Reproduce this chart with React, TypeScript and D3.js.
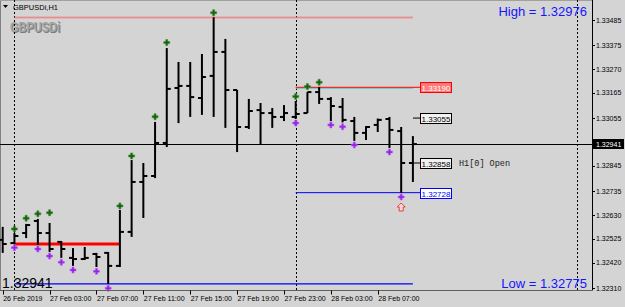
import React from 'react';
import * as d3 from 'd3';

const W = 625;
const H = 307;

// OHLC per H1 bar (26 Feb 23:00 .. 28 Feb 10:00)
const opens = [1.32521, 1.32507, 1.32551, 1.32604, 1.32551, 1.32512, 1.32442, 1.32437, 1.32459, 1.32464, 1.32407, 1.32556, 1.32775, 1.32801, 1.32946, 1.33187, 1.33196, 1.33143, 1.3324, 1.33345, 1.33178, 1.33016, 1.3309, 1.33077, 1.3306, 1.3306, 1.33077, 1.33169, 1.33139, 1.33104, 1.33042, 1.3299, 1.33025, 1.33051, 1.32998, 1.32858];
const highs = [1.32578, 1.32551, 1.32591, 1.32613, 1.32595, 1.32516, 1.32485, 1.3249, 1.32464, 1.32468, 1.32652, 1.32871, 1.32858, 1.33038, 1.33362, 1.33301, 1.33301, 1.33336, 1.33497, 1.33402, 1.33178, 1.33139, 1.33121, 1.33099, 1.33112, 1.3313, 1.33169, 1.33191, 1.33147, 1.33143, 1.3306, 1.3302, 1.33053, 1.3306, 1.33016, 1.32976];
const lows = [1.32464, 1.32503, 1.32529, 1.32499, 1.32468, 1.32442, 1.32407, 1.32433, 1.32402, 1.32328, 1.32402, 1.32534, 1.32617, 1.32792, 1.32928, 1.33033, 1.3306, 1.33069, 1.3306, 1.33012, 1.32906, 1.33007, 1.32941, 1.33012, 1.33042, 1.33051, 1.33077, 1.33117, 1.33042, 1.33036, 1.32955, 1.32959, 1.32994, 1.32924, 1.32727, 1.32775];
const closes = [1.32503, 1.32538, 1.32586, 1.32551, 1.32481, 1.32481, 1.32437, 1.32442, 1.32446, 1.32407, 1.32556, 1.32775, 1.32801, 1.32946, 1.33183, 1.33196, 1.33147, 1.33235, 1.33345, 1.33178, 1.33016, 1.33086, 1.33077, 1.3306, 1.33077, 1.33073, 1.33169, 1.33139, 1.33108, 1.33047, 1.3299, 1.33016, 1.33047, 1.33003, 1.32858, 1.32941];

const timeTickIdx = [0, 4, 8, 12, 16, 20, 24, 28, 32];
const timeLabels = ['26 Feb 2019', '27 Feb 03:00', '27 Feb 07:00', '27 Feb 11:00', '27 Feb 15:00', '27 Feb 19:00', '27 Feb 23:00', '28 Feb 03:00', '28 Feb 07:00'];
const priceTicks = [1.33485, 1.33375, 1.3327, 1.33165, 1.33055, 1.32845, 1.32735, 1.3263, 1.32525, 1.3242, 1.3231];

const upIdx = [1, 2, 3, 4, 10, 11, 13, 14, 18, 25, 26, 27];
const upVals = [1.32569, 1.32616, 1.32635, 1.3264, 1.3267, 1.32889, 1.33061, 1.33386, 1.33517, 1.3315, 1.33193, 1.33212];
const dnIdx = [1, 3, 4, 5, 6, 8, 9, 25, 28, 29, 30, 33, 34];
const dnVals = [1.32487, 1.32481, 1.3245, 1.32423, 1.32389, 1.32383, 1.32309, 1.33033, 1.33025, 1.33017, 1.32937, 1.32906, 1.32709];

const separators = [1, 25, 49];
const currentPrice = 1.32941;
const periodHigh = 1.33497;
const periodLow = 1.32328;
const rangeLevel = 1.32503;
const arrowIdx = 34;
const arrowVal = 1.32665;

const levelLabels = ['1.33190', '1.33055', '1.32858', '1.32728'];
const levelValues = [1.3319, 1.33055, 1.32858, 1.32728];

const BG = '#d4d4d4';

export default function App() {
  const x = d3.scaleLinear().domain([0, 35]).range([2.7, 412.9]);
  const y = d3.scaleLinear().domain([1.3231, 1.33485]).range([288, 20]);
  const plotRight = 592;
  const plotBottom = 290.5;
  const fmt = d3.format('.5f');
  const cross = d3.symbol().type(d3.symbolCross).size(20)() as string;

  const labelStyles = [
    { stroke: '#ff0000', fill: '#ff7a7a', text: '#ffffff' },
    { stroke: '#000000', fill: '#f2f2f2', text: '#000000' },
    { stroke: '#000000', fill: '#f2f2f2', text: '#000000' },
    { stroke: '#0000ff', fill: '#ffffff', text: '#0000ff' },
  ];

  return (
    <svg width={W} height={H} style={{ position: 'fixed', left: 0, top: 0, background: BG }} fontFamily="'Liberation Sans', Arial, sans-serif">
      <rect x={0} y={0} width={W} height={H} fill={BG} />
      {/* frame */}
      <line x1={0.5} y1={0} x2={0.5} y2={plotBottom} stroke="#808080" />
      <line x1={0} y1={0.5} x2={plotRight} y2={0.5} stroke="#a0a0a0" />

      {/* watermark */}
      <text x={11} y={33} fontSize={14} fontWeight="bold" fill="#7a7a7a" textLength={50} lengthAdjust="spacingAndGlyphs">GBPUSDi</text>
      <text x={10} y={32} fontSize={14} fontWeight="bold" fill="#a4a4a4" textLength={50} lengthAdjust="spacingAndGlyphs">GBPUSDi</text>

      {/* period separators */}
      {separators.map((s) => (
        <line key={s} x1={Math.round(x(s)) + 0.5} y1={0} x2={Math.round(x(s)) + 0.5} y2={plotBottom} stroke="#000" strokeDasharray="2,2" />
      ))}

      {/* levels */}
      <line x1={x(1)} y1={y(periodHigh)} x2={x(35)} y2={y(periodHigh)} stroke="#e86a6a" strokeWidth={1} />
      <line x1={x(1)} y1={y(periodHigh) + 1} x2={x(35)} y2={y(periodHigh) + 1} stroke="#f0a8a8" strokeWidth={1} />
      <line x1={x(1)} y1={y(periodLow)} x2={x(35)} y2={y(periodLow)} stroke="#0000ff" strokeWidth={1.3} />
      <line x1={x(1)} y1={y(rangeLevel)} x2={x(10)} y2={y(rangeLevel)} stroke="#ff0000" strokeWidth={3} />
      <line x1={x(25)} y1={y(levelValues[0]) + 1} x2={x(35)} y2={y(levelValues[0]) + 1} stroke="#5fc8c0" strokeWidth={1} />
      <line x1={x(25)} y1={y(levelValues[0])} x2={420} y2={y(levelValues[0])} stroke="#ff0000" strokeWidth={1} />
      <line x1={x(25)} y1={y(levelValues[3])} x2={420} y2={y(levelValues[3])} stroke="#0000ff" strokeWidth={1} />
      <line x1={413} y1={y(levelValues[1])} x2={420} y2={y(levelValues[1])} stroke="#000" strokeWidth={1} />
      <line x1={413} y1={y(levelValues[2])} x2={420} y2={y(levelValues[2])} stroke="#000" strokeWidth={1} />

      {/* current price line */}
      <line x1={0} y1={Math.round(y(currentPrice)) + 0.5} x2={plotRight} y2={Math.round(y(currentPrice)) + 0.5} stroke="#000" strokeWidth={1} />

      {/* bars */}
      {opens.map((o, i) => {
        const cx = x(i);
        return (
          <g key={i} stroke="#000" strokeWidth={2}>
            <line x1={cx} y1={y(highs[i])} x2={cx} y2={y(lows[i])} />
            <line x1={cx - 4} y1={y(o)} x2={cx} y2={y(o)} />
            <line x1={cx} y1={y(closes[i])} x2={cx + 4} y2={y(closes[i])} />
          </g>
        );
      })}

      {/* markers */}
      {upIdx.map((idx, k) => (
        <path key={'u' + k} d={cross} transform={`translate(${x(idx)},${y(upVals[k])})`} fill="#0a640a" stroke="#4f8a3a" strokeWidth={0.6} />
      ))}
      {dnIdx.map((idx, k) => (
        <path key={'d' + k} d={cross} transform={`translate(${x(idx)},${y(dnVals[k])})`} fill="#9a1ee8" stroke="#b566f0" strokeWidth={0.6} />
      ))}

      {/* up arrow */}
      <path
        d="M0,-4 L4,0 L2,0 L2,4 L-2,4 L-2,0 L-4,0 Z"
        transform={`translate(${x(arrowIdx)},${y(arrowVal)})`}
        fill="#ffd8d8"
        stroke="#e04040"
        strokeWidth={1}
      />

      {/* level labels */}
      {levelLabels.map((t, k) => {
        const ly = y(levelValues[k]);
        const st = labelStyles[k];
        return (
          <g key={'l' + k}>
            <rect x={420.5} y={Math.round(ly) - 4.5} width={31} height={10} fill={st.fill} stroke={st.stroke} strokeWidth={1} />
            <text x={436} y={Math.round(ly) + 3.5} fontSize={8} textAnchor="middle" fill={st.text}>{t}</text>
          </g>
        );
      })}
      <text x={459} y={y(levelValues[2]) + 3} fontSize={8.5} fontFamily="'Liberation Mono', monospace" fill="#222">H1[0] Open</text>

      {/* texts */}
      <text x={587} y={16} fontSize={13} textAnchor="end" fill="#1414ff">High = 1.32976</text>
      <text x={587} y={288} fontSize={13} textAnchor="end" fill="#1414ff">Low = 1.32775</text>
      <text x={2} y={288} fontSize={14} fill="#000">1.32941</text>

      {/* title */}
      <path d="M3,5 L8,5 L5.5,8 Z" fill="#000" />
      <text x={13} y={10} fontSize={7.5} fill="#000">GBPUSDi,H1</text>

      {/* axes */}
      <line x1={plotRight + 0.5} y1={0} x2={plotRight + 0.5} y2={plotBottom} stroke="#000" />
      <line x1={0} y1={plotBottom} x2={plotRight} y2={plotBottom} stroke="#606060" />
      {priceTicks.map((p) => (
        <g key={p}>
          <line x1={plotRight} y1={Math.round(y(p)) + 0.5} x2={plotRight + 3} y2={Math.round(y(p)) + 0.5} stroke="#000" />
          <text x={596} y={y(p) + 2.5} fontSize={7} fill="#000">{fmt(p)}</text>
        </g>
      ))}
      <rect x={593} y={Math.round(y(currentPrice)) - 5} width={31} height={10} fill="#000" />
      <text x={596} y={y(currentPrice) + 2.5} fontSize={7} fill="#fff">{fmt(currentPrice)}</text>

      {timeTickIdx.map((ti, k) => (
        <g key={ti}>
          <line x1={Math.round(x(ti)) + 0.5} y1={plotBottom} x2={Math.round(x(ti)) + 0.5} y2={plotBottom + 4} stroke="#000" />
          <text x={x(ti) + 0.5} y={301} fontSize={7} fill="#000">{timeLabels[k]}</text>
        </g>
      ))}
    </svg>
  );
}
